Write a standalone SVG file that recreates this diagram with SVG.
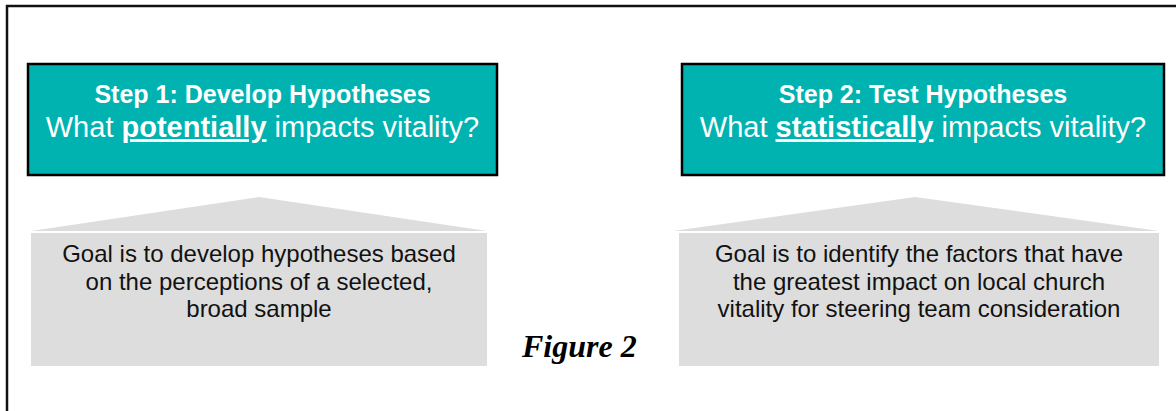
<svg xmlns="http://www.w3.org/2000/svg" width="1176" height="411" viewBox="0 0 1176 411">
<style>
.step{fill:#00B3B0;stroke:#000;stroke-width:2.5}
.head{font-family:"Liberation Sans",Arial,sans-serif;font-size:25px;font-weight:bold;fill:#fff;text-anchor:middle}
.q{font-family:"Liberation Sans",Arial,sans-serif;font-size:29px;fill:#fff;text-anchor:middle}
.q .b{font-weight:bold;text-decoration:underline}
.goal{fill:#DDDDDD}
.gt{font-family:"Liberation Sans",Arial,sans-serif;font-size:24px;fill:#111;text-anchor:middle}
.fig{font-family:"Liberation Serif","Times New Roman",serif;font-size:32px;font-weight:bold;font-style:italic;fill:#000}
</style>
<rect width="1176" height="411" fill="#fff"/>
<path d="M7,411 V6 H1176" fill="none" stroke="#111" stroke-width="2.5"/>
<g id="connectors"/>
<g id="step1">
<rect class="step" x="28" y="64" width="469" height="111"/>
<text class="head" x="262.5" y="103">Step 1: Develop Hypotheses</text>
<text class="q" x="262.5" y="137">What <tspan class="b">potentially</tspan> impacts vitality?</text>
</g>
<g id="step2">
<rect class="step" x="682" y="64" width="482" height="111"/>
<text class="head" x="923" y="103">Step 2: Test Hypotheses</text>
<text class="q" x="923" y="137">What <tspan class="b">statistically</tspan> impacts vitality?</text>
</g>
<g id="goal1">
<polygon class="goal" points="31,231 259,197 487,231"/>
<rect class="goal" x="31" y="233" width="456" height="133"/>
<text class="gt" x="259" y="262">Goal is to develop hypotheses based</text>
<text class="gt" x="259" y="290">on the perceptions of a selected,</text>
<text class="gt" x="259" y="317">broad sample</text>
</g>
<g id="goal2">
<polygon class="goal" points="673,231 915,197 1159,231"/>
<rect class="goal" x="679" y="233" width="480" height="133"/>
<text class="gt" x="919" y="262">Goal is to identify the factors that have</text>
<text class="gt" x="919" y="290">the greatest impact on local church</text>
<text class="gt" x="919" y="317">vitality for steering team consideration</text>
</g>
<g id="caption">
<text class="fig" x="522" y="357">Figure 2</text>
</g>
</svg>
